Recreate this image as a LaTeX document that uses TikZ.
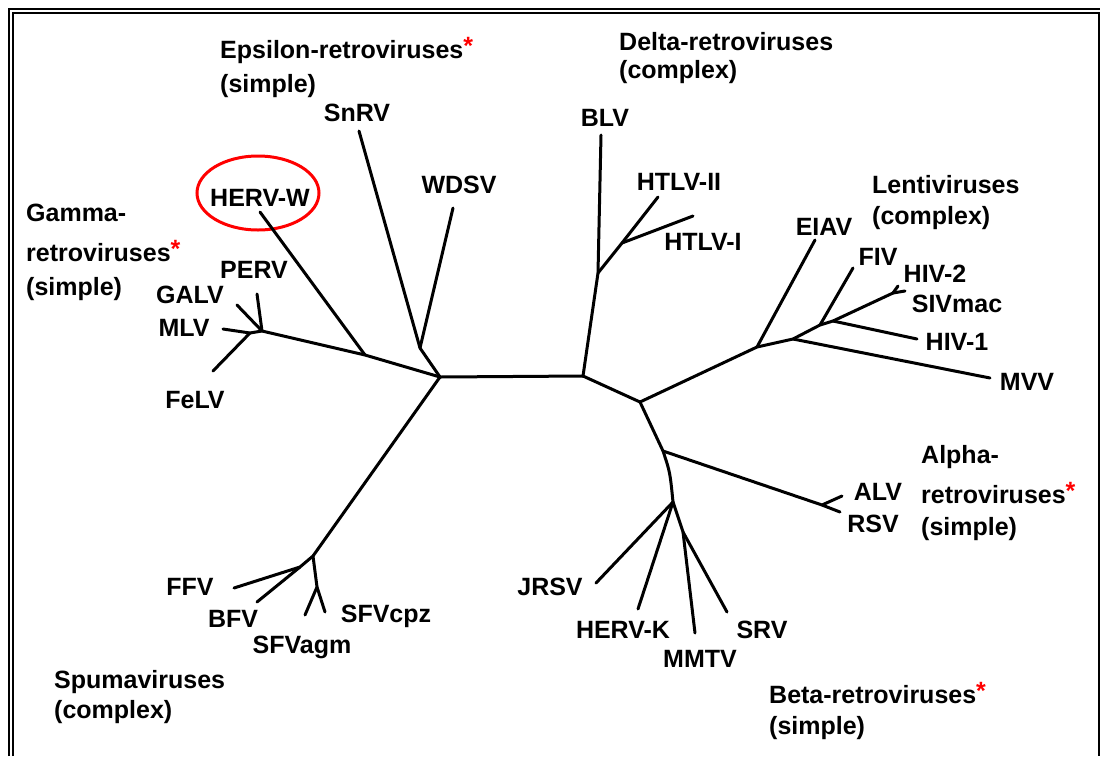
\documentclass[tikz,border=0pt]{standalone}
\usepackage{fontspec}
\setmainfont{Liberation Sans}
\newcommand{\redstar}{\textcolor{red}{\raisebox{4pt}{*}}}
\begin{document}
\begin{tikzpicture}[x=1pt,y=-1pt,
  lab/.style={font=\fontsize{25}{30}\selectfont\bfseries, inner sep=0pt, anchor=base},
  grp/.style={font=\fontsize{25}{30}\selectfont\bfseries, inner sep=0pt, anchor=base west},
  br/.style={line width=3pt, line cap=round, line join=round},
  frame/.style={line width=2pt}]
\useasboundingbox (0,0) rectangle (1100,756);
% frame
\draw[frame] (9,756) -- (9,9) -- (1100,9);
\draw[frame] (13,756) -- (13,13) -- (1100,13);
\draw[frame] (1099,13) -- (1099,756);

% group labels
\node[grp] (eps1) at (220,58) {Epsilon-retroviruses\redstar};
\node[grp] (eps2) at (220,92) {(simple)};
\node[grp] (del1) at (619,50) {Delta-retroviruses};
\node[grp] (del2) at (619,78) {(complex)};
\node[grp] (gam1) at (26,221) {Gamma-};
\node[grp] (gam2) at (26,261) {retroviruses\redstar};
\node[grp] (gam3) at (26,295) {(simple)};
\node[grp] (len1) at (872,193) {Lentiviruses};
\node[grp] (len2) at (872,224) {(complex)};
\node[grp] (alp1) at (921,463) {Alpha-};
\node[grp] (alp2) at (921,503) {retroviruses\redstar};
\node[grp] (alp3) at (921,535) {(simple)};
\node[grp] (spu1) at (54,688) {Spumaviruses};
\node[grp] (spu2) at (54,718) {(complex)};
\node[grp] (bet1) at (769,703) {Beta-retroviruses\redstar};
\node[grp] (bet2) at (769,734) {(simple)};

% leaf labels
\node[lab] (lSnRV) at (357,121) {SnRV};
\node[lab] (lWDSV) at (459,193) {WDSV};
\node[lab] (lHERVW) at (260,206) {HERV-W};
\node[lab] (lPERV) at (254,278) {PERV};
\node[lab] (lGALV) at (190,303) {GALV};
\node[lab] (lMLV) at (184,336) {MLV};
\node[lab] (lFeLV) at (195,408) {FeLV};
\node[lab] (lBLV) at (605,126) {BLV};
\node[lab] (lHTLV2) at (679,190) {HTLV-II};
\node[lab] (lHTLV1) at (703,250) {HTLV-I};
\node[lab] (lEIAV) at (824,235) {EIAV};
\node[lab] (lFIV) at (878,265) {FIV};
\node[lab] (lHIV2) at (935,282) {HIV-2};
\node[lab] (lSIV) at (957,312) {SIVmac};
\node[lab] (lHIV1) at (957,350) {HIV-1};
\node[lab] (lMVV) at (1027,390) {MVV};
\node[lab] (lALV) at (878,500) {ALV};
\node[lab] (lRSV) at (873,532) {RSV};
\node[lab] (lJRSV) at (550,595) {JRSV};
\node[lab] (lHERVK) at (623,638) {HERV-K};
\node[lab] (lMMTV) at (700,667) {MMTV};
\node[lab] (lSRV) at (762,638) {SRV};
\node[lab] (lFFV) at (190,595) {FFV};
\node[lab] (lBFV) at (233,627) {BFV};
\node[lab] (lSFVagm) at (302,653) {SFVagm};
\node[lab] (lSFVcpz) at (386,622) {SFVcpz};

% red highlight
\draw[red, line width=3pt] (258,193) ellipse [x radius=61, y radius=37];

% tree coordinates
\coordinate (A) at (440,377);
\coordinate (B) at (583,376);
\coordinate (E) at (420,348);
\coordinate (tSnRV) at (359,131);
\coordinate (tWDSV) at (453,208);
\coordinate (H) at (365,355);
\coordinate (G) at (262,331);
\coordinate (G2) at (250,333);
\coordinate (tHERVW) at (260,212);
\coordinate (tPERV) at (257,294);
\coordinate (tGALV) at (237,305);
\coordinate (tMLV) at (223,329);
\coordinate (tFeLV) at (213,371);
\coordinate (D1) at (598,273);
\coordinate (D2) at (622,243);
\coordinate (tBLV) at (601,135);
\coordinate (tHTLV2) at (658,197);
\coordinate (tHTLV1) at (693,216);
\coordinate (C) at (640,402);
\coordinate (L1) at (757,347);
\coordinate (L2) at (793,339);
\coordinate (L3) at (820,325);
\coordinate (L4) at (833,321);
\coordinate (L5) at (893,293);
\coordinate (tEIAV) at (815,240);
\coordinate (tMVV) at (990,378);
\coordinate (tFIV) at (853,268);
\coordinate (tHIV1) at (917,339);
\coordinate (tHIV2) at (898,286);
\coordinate (tSIV) at (905,291);
\coordinate (Bt1) at (663,451);
\coordinate (Bt2) at (673,502);
\coordinate (Bt3) at (683,532);
\coordinate (AR) at (822,505);
\coordinate (tRSV) at (840,512);
\coordinate (tALV) at (842,496);
\coordinate (tJRSV) at (596,583);
\coordinate (tHERVK) at (638,609);
\coordinate (tMMTV) at (695,633);
\coordinate (tSRV) at (727,612);
\coordinate (S1) at (313,556);
\coordinate (S2) at (300,567);
\coordinate (S3) at (317,587);
\coordinate (tFFV) at (234,588);
\coordinate (tBFV) at (257,602);
\coordinate (tSFVagm) at (305,615);
\coordinate (tSFVcpz) at (325,612);

% branches
\draw[br] (A) -- (B);
\draw[br] (A) -- (E);
\draw[br] (E) -- (tSnRV);
\draw[br] (E) -- (tWDSV);
\draw[br] (A) -- (H) -- (G) -- (G2) -- (tMLV);
\draw[br] (H) -- (tHERVW);
\draw[br] (G) -- (tPERV);
\draw[br] (G) -- (tGALV);
\draw[br] (G2) -- (tFeLV);
\draw[br] (B) -- (D1) -- (tBLV);
\draw[br] (D1) -- (D2) -- (tHTLV2);
\draw[br] (D2) -- (tHTLV1);
\draw[br] (B) -- (C) -- (L1) -- (L2) -- (L3) -- (L4) -- (L5);
\draw[br] (L1) -- (tEIAV);
\draw[br] (L2) -- (tMVV);
\draw[br] (L3) -- (tFIV);
\draw[br] (L4) -- (tHIV1);
\draw[br] (L5) -- (tHIV2);
\draw[br] (L5) -- (tSIV);
\draw[br] (C) -- (Bt1) .. controls (670,472) .. (Bt2);
\draw[br] (Bt1) -- (AR) -- (tRSV);
\draw[br] (AR) -- (tALV);
\draw[br] (Bt2) -- (tJRSV);
\draw[br] (Bt2) -- (tHERVK);
\draw[br] (Bt2) -- (Bt3) -- (tMMTV);
\draw[br] (Bt3) -- (tSRV);
\draw[br] (A) -- (S1) -- (S2) -- (tFFV);
\draw[br] (S2) -- (tBFV);
\draw[br] (S1) -- (S3) -- (tSFVagm);
\draw[br] (S3) -- (tSFVcpz);
\end{tikzpicture}
\end{document}
